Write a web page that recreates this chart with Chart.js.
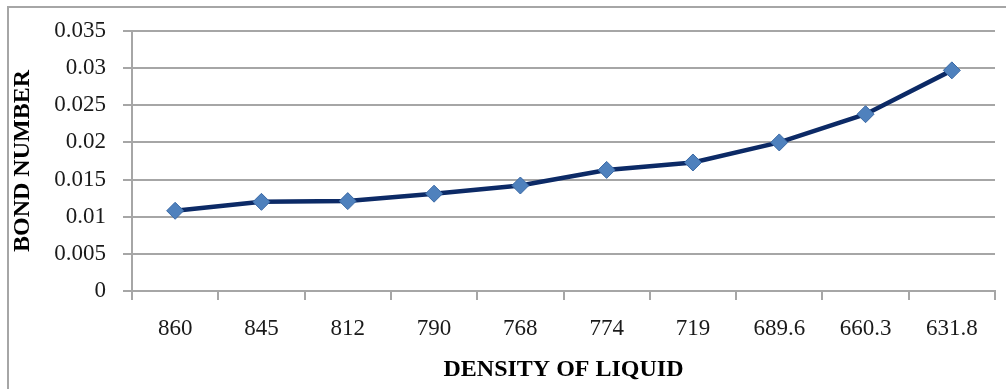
<!DOCTYPE html>
<html>
<head>
<meta charset="utf-8">
<script src="https://cdn.jsdelivr.net/npm/chart.js@4"></script>
<style>
  html, body { margin: 0; padding: 0; background: #fff; }
  #wrap { position: relative; width: 1006px; height: 389px; }
</style>
</head>
<body>
<div id="wrap"><canvas id="bondChart" width="1006" height="389"></canvas></div>
<script>
// density of each liquid and the bond number measured for it
const densities = ["860", "845", "812", "790", "768", "774", "719", "689.6", "660.3", "631.8"];
const bondNumbers = [0.0108, 0.0120, 0.0121, 0.0131, 0.0142, 0.0163, 0.0173, 0.0200, 0.0238, 0.0297];
const yTicks = [0, 0.005, 0.01, 0.015, 0.02, 0.025, 0.03, 0.035];

const gridColor = "#a6a6a6";
const textColor = "#1a1a1a";

// grey frame around the whole chart
const frame = {
  id: "frame",
  beforeDraw(chart) {
    const ctx = chart.ctx;
    ctx.save();
    ctx.fillStyle = "#fff";
    ctx.fillRect(0, 0, chart.width, chart.height);
    ctx.strokeStyle = "#a6a6a6";
    ctx.lineWidth = 2;
    ctx.strokeRect(8, 7, chart.width + 20, chart.height + 20);
    ctx.restore();
  }
};

new Chart(document.getElementById("bondChart"), {
  type: "line",
  data: {
    labels: densities,
    datasets: [{
      label: "Bond number",
      data: bondNumbers,
      borderColor: "#0c2a66",
      borderWidth: 4.5,
      tension: 0,
      pointStyle: "rectRot",
      pointRadius: 8.5,
      pointHoverRadius: 8.5,
      pointBackgroundColor: "#4f81bd",
      pointBorderColor: "#3b6aa6",
      pointBorderWidth: 1
    }]
  },
  options: {
    responsive: false,
    animation: false,
    layout: { padding: { top: 31, right: 11, left: 0, bottom: 0 } },
    plugins: {
      legend: { display: false },
      tooltip: { enabled: false }
    },
    scales: {
      x: {
        offset: true,
        afterFit(scale) { scale.height = 98; },
        grid: {
          offset: true,
          drawOnChartArea: false,
          color: gridColor,
          lineWidth: 2,
          tickLength: 9
        },
        border: { color: gridColor, width: 2 },
        ticks: {
          color: textColor,
          padding: 15,
          maxRotation: 0,
          font: { family: "Liberation Serif", size: 23 }
        },
        title: {
          display: true,
          text: "DENSITY OF LIQUID",
          color: "#000",
          padding: { top: 0, bottom: 5 },
          font: { family: "Liberation Serif", size: 24, weight: "bold" }
        }
      },
      y: {
        min: 0,
        max: 0.035,
        afterFit(scale) { scale.width = 132; },
        afterBuildTicks(scale) { scale.ticks = yTicks.map(v => ({ value: v })); },
        grid: {
          color: gridColor,
          lineWidth: 2,
          tickLength: 9
        },
        border: { color: gridColor, width: 2 },
        ticks: {
          color: textColor,
          padding: 17,
          font: { family: "Liberation Serif", size: 23 },
          callback: v => String(+v.toFixed(3))
        },
        title: {
          display: true,
          text: "BOND NUMBER",
          color: "#000",
          padding: { top: 8, bottom: 0 },
          font: { family: "Liberation Serif", size: 24, weight: "bold" }
        }
      }
    }
  },
  plugins: [frame]
});
</script>
</body>
</html>
